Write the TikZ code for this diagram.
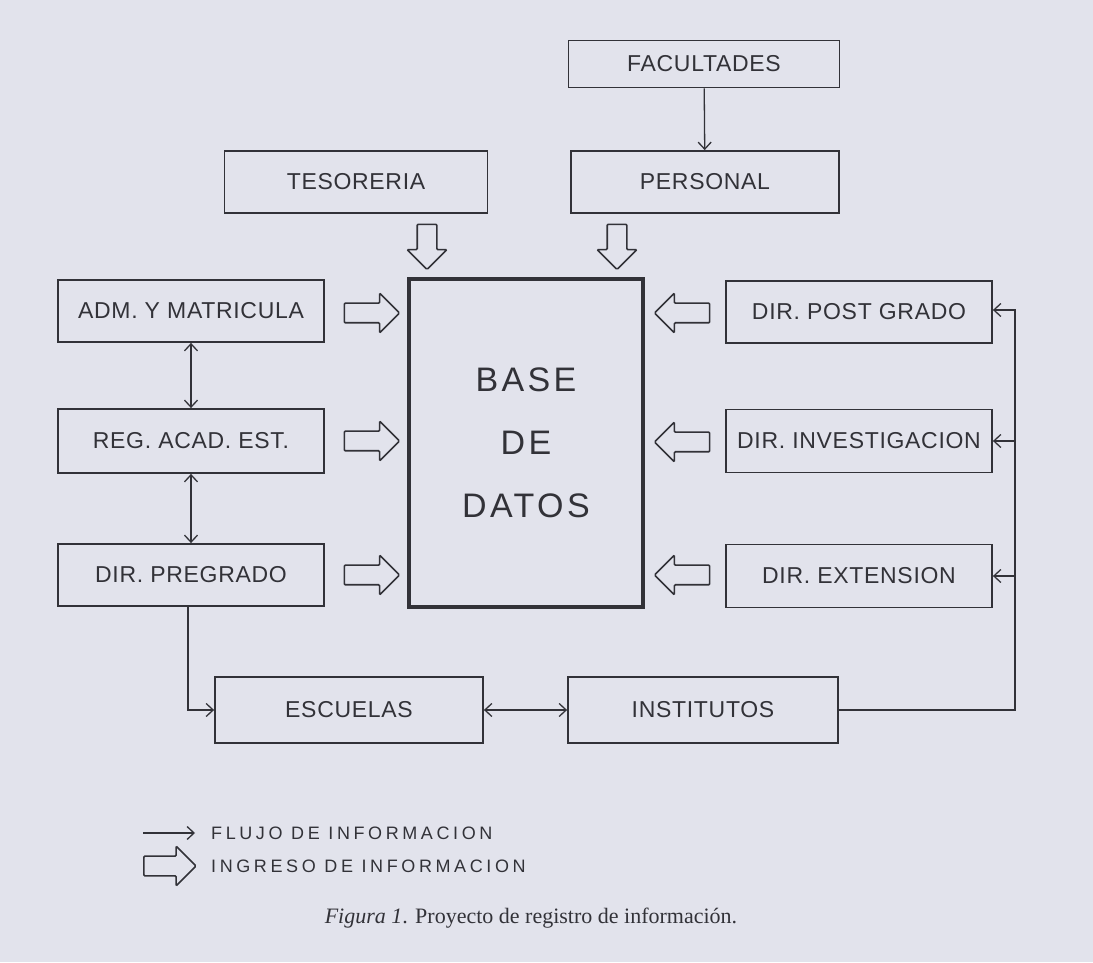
\documentclass[tikz,border=0pt]{standalone}
\usepackage{fontspec}
\setmainfont{Liberation Sans}
\newfontfamily\rotulo[LetterSpace=3]{Liberation Sans}
\newfontfamily\rotulobase[LetterSpace=10]{Liberation Sans}
\newfontfamily\leyenda[LetterSpace=20]{Liberation Sans}
\newfontfamily\pie{Liberation Serif}
\usetikzlibrary{arrows.meta,shapes.arrows}

\begin{document}
\begin{tikzpicture}[x=1pt,y=1pt,
  >={Straight Barb[length=7pt,width=13pt]},
  caja/.style={draw=drawColor,line width=1.8pt,minimum width=266,minimum height=62,inner sep=0pt,text=drawColor,font=\rotulo\fontsize{23}{27}\selectfont},
  ingreso/.style={single arrow,draw=drawColor,line width=1.6pt,minimum height=55,minimum width=38,single arrow head extend=10pt,inner xsep=0pt,inner ysep=9pt,rounded corners=1pt},
  bajada/.style={ingreso,shape border rotate=270,minimum height=45,inner xsep=9pt,inner ysep=0pt},
  flujo/.style={draw=drawColor,line width=1.3pt,->},
  rotulo/.style={anchor=west,inner sep=0pt,text=drawColor,font=\leyenda\fontsize{18}{22}\selectfont}]
\definecolor{fondo}{RGB}{226,227,236}
\definecolor{drawColor}{RGB}{50,50,56}
\path[use as bounding box,fill=fondo] (0,0) rectangle (1093,962);

\node[caja,minimum width=271,minimum height=47] (facultades) at (704,898) {FACULTADES};
\node[caja,minimum width=268] (personal) at (705,780) {PERSONAL};
\node[caja,minimum width=263] (tesoreria) at (356,780) {TESORERIA};

\node[draw=drawColor,line width=3.5pt,minimum width=234,minimum height=328,align=center,text=drawColor,font=\rotulobase\fontsize{34}{63}\selectfont] (base) at (526,519) {BASE\\DE\\DATOS};

\node[caja] (adm) at (191,651) {ADM. Y MATRICULA};
\node[caja,minimum height=64] (reg) at (191,521) {REG. ACAD. EST.};
\node[caja] (pregrado) at (191,387) {DIR. PREGRADO};

\node[caja] (postgrado) at (859,650) {DIR. POST GRADO};
\node[caja,minimum height=63] (investigacion) at (859,521) {DIR. INVESTIGACION};
\node[caja,minimum height=63] (extension) at (859,386) {DIR. EXTENSION};

\node[caja,minimum width=268,minimum height=66] (escuelas) at (349,252) {ESCUELAS};
\node[caja,minimum width=270,minimum height=66] (institutos) at (703,252) {INSTITUTOS};

\node[bajada] (fTesoreria) at (427,720) {};
\node[bajada] (fPersonal) at (617,720) {};
\node[ingreso] (fAdm) at (367,649) {};
\node[ingreso] (fReg) at (367,521) {};
\node[ingreso] (fPregrado) at (367,387) {};
\node[ingreso,shape border rotate=180] (fPostgrado) at (687,649) {};
\node[ingreso,shape border rotate=180] (fInvestigacion) at (687,520) {};
\node[ingreso,shape border rotate=180] (fExtension) at (687,387) {};

\draw[flujo] (facultades) -- (personal);
\draw[flujo,<->] (adm) -- (reg);
\draw[flujo,<->] (reg) -- (pregrado);
\draw[flujo] ([xshift=-3]pregrado.south) |- (escuelas.west);
\draw[flujo,<->] (escuelas) -- (institutos);

\coordinate (bus) at (1015,252);
\draw[flujo] (institutos.east) -- (bus) |- ([yshift=2]postgrado.east);
\draw[flujo] (bus |- investigacion.east) -- (investigacion.east);
\draw[flujo] (bus |- extension.east) -- (extension.east);

\coordinate (leyIni) at (143,129);
\coordinate (leyFin) at (195,129);
\draw[flujo] (leyIni) -- (leyFin);
\node[rotulo] (leyFlujo) at (211,129) {FLUJO DE INFORMACION};
\node[ingreso,minimum height=52] (leyFlecha) at (165,96) {};
\node[rotulo] (leyIngreso) at (211,96) {INGRESO DE INFORMACION};

\node[text=drawColor,font=\pie\fontsize{22}{26}\selectfont] (pie) at (531,44) {\textit{Figura 1}. Proyecto de registro de información.};
\end{tikzpicture}
\end{document}
